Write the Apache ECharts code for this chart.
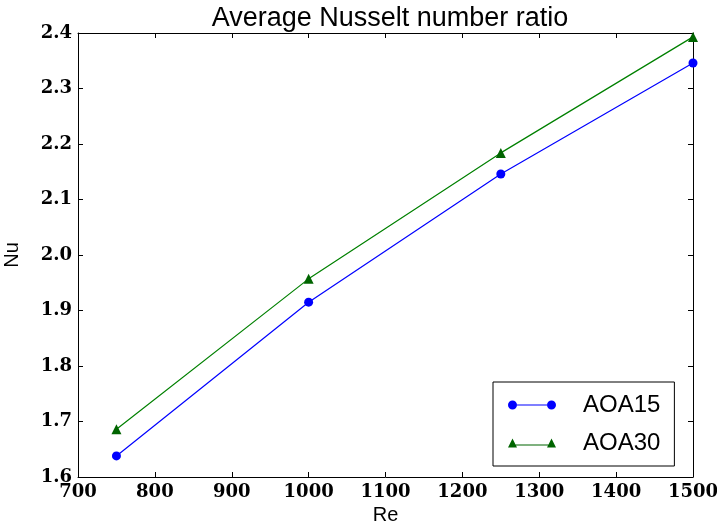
<!DOCTYPE html>
<html>
<head>
<meta charset="utf-8">
<script src="https://cdn.jsdelivr.net/npm/echarts@6/dist/echarts.min.js"></script>
<style>
html,body{margin:0;padding:0;background:#fff;}
#chart{width:717px;height:524px;}
</style>
</head>
<body>
<div id="chart"></div>
<script>
const reValues = [750, 1000, 1250, 1500];
const aoa15 = [1.638, 1.915, 2.146, 2.346];
const aoa30 = [1.686, 1.957, 2.184, 2.393];
const xTicks = [700, 800, 900, 1000, 1100, 1200, 1300, 1400, 1500];
const yTicks = [1.6, 1.7, 1.8, 1.9, 2.0, 2.1, 2.2, 2.3, 2.4];

const tickFont = {fontFamily: 'DejaVu Serif', fontWeight: 'bold', fontSize: 18, color: '#000'};
const circleIcon = 'path://M0,5a4.5,4.5 0 1,0 9,0a4.5,4.5 0 1,0 -9,0Z M39,5a4.5,4.5 0 1,0 9,0a4.5,4.5 0 1,0 -9,0Z M8.9,4.4L39.1,4.4L39.1,5.6L8.9,5.6Z';
const triIcon = 'path://M0,9.5L4.5,0.5L9,9.5Z M39,9.5L43.5,0.5L48,9.5Z M7.6,6.4L40.4,6.4L40.4,7.6L7.6,7.6Z';
const chart = echarts.init(document.getElementById('chart'));
const xBase = {
  type: 'value', min: xTicks[0], max: xTicks[xTicks.length - 1], interval: 100,
  axisLine: {show: true, lineStyle: {color: '#000', width: 1}},
  axisTick: {show: true, inside: true, length: 5, lineStyle: {color: '#000'}},
  splitLine: {show: false}
};
const yBase = {
  type: 'value', min: yTicks[0], max: yTicks[yTicks.length - 1], interval: 0.1,
  axisLine: {show: true, lineStyle: {color: '#000', width: 1}},
  axisTick: {show: true, inside: true, length: 5, lineStyle: {color: '#000'}},
  splitLine: {show: false}
};
chart.setOption({
  animation: false,
  backgroundColor: '#fff',
  title: {
    text: 'Average Nusselt number ratio', left: 385, top: 0, textAlign: 'center',
    textStyle: {fontFamily: 'Liberation Sans', fontWeight: 'normal', fontSize: 27, color: '#000'}
  },
  grid: {left: 78, right: 24, top: 33, bottom: 47, outerBoundsMode: 'none', containLabel: false},
  legend: {
    orient: 'vertical', left: 493, top: 382,
    padding: [8, 14, 8, 15], itemGap: 8, itemWidth: 48, itemHeight: 10,
    borderColor: '#000', borderWidth: 1, backgroundColor: '#fff',
    textStyle: {fontFamily: 'Liberation Sans', fontSize: 24, color: '#000', lineHeight: 30, padding: [0, 0, 0, 22]},
    data: [{name: 'AOA15', icon: circleIcon}, {name: 'AOA30', icon: triIcon}]
  },
  xAxis: [
    Object.assign({}, xBase, {
      position: 'bottom', name: 'Re', nameLocation: 'middle', nameGap: 22,
      nameTextStyle: {fontFamily: 'Liberation Sans', fontSize: 20, color: '#000'},
      axisLabel: Object.assign({margin: 6, formatter: v => String(v)}, tickFont)
    }),
    Object.assign({}, xBase, {position: 'top', axisLabel: {show: false}})
  ],
  yAxis: [
    Object.assign({}, yBase, {
      position: 'left', name: 'Nu', nameLocation: 'middle', nameGap: 56,
      nameTextStyle: {fontFamily: 'Liberation Sans', fontSize: 20, color: '#000'},
      axisLabel: Object.assign({margin: 6, formatter: v => v.toFixed(1)}, tickFont)
    }),
    Object.assign({}, yBase, {position: 'right', axisLabel: {show: false}})
  ],
  series: [
    {
      name: 'AOA15', type: 'line', data: reValues.map((x, i) => [x, aoa15[i]]),
      symbol: 'circle', symbolSize: 9, showAllSymbol: true,
      lineStyle: {color: '#0000ff', width: 1.2}, itemStyle: {color: '#0000ff'}
    },
    {
      name: 'AOA30', type: 'line', data: reValues.map((x, i) => [x, aoa30[i]]),
      symbol: 'triangle', symbolSize: 10, showAllSymbol: true,
      lineStyle: {color: '#008000', width: 1.2}, itemStyle: {color: '#006400'}
    }
  ]
});
</script>
</body>
</html>
